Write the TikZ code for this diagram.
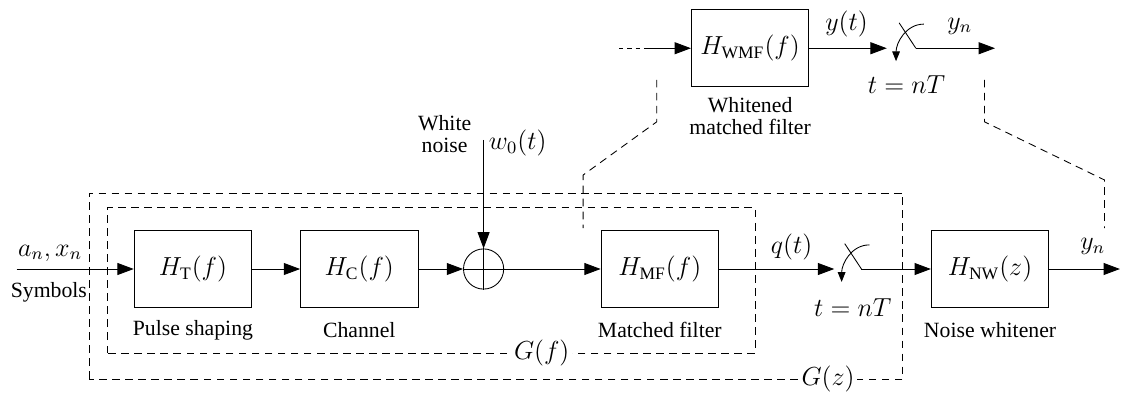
\documentclass[tikz,border=0pt]{standalone}
\usepackage{fontspec}
\setmainfont{Liberation Serif}
\usetikzlibrary{arrows.meta,positioning,calc}

\begin{document}
\begin{tikzpicture}[on grid,thin,node distance=2.69cm,
  bloc/.style={draw,minimum width=1.9cm,minimum height=1.25cm,inner sep=0pt,
               font=\fontsize{11.5}{13}\selectfont},
  somme/.style={draw,circle,minimum size=0.65cm,inner sep=0pt},
  etiq/.style={font=\fontsize{11.5}{13}\selectfont,inner sep=1pt},
  legende/.style={align=center,inner sep=1pt},
  pt/.style={coordinate},
  cadre/.style={dash pattern=on 3.5pt off 2.5pt},
  fl/.style={-{Triangle[length=7.5pt,width=5.5pt]}},
  petitefl/.style={-{Triangle[length=4.5pt,width=3.5pt]}}]

\useasboundingbox (0,0) rectangle (18.16,6.37);

% chaine principale
\node[bloc] (HT) at (3.12,2.02) {$H_{\mathrm{T}}(f)$};
\node[bloc] (HC) [right=of HT] {$H_{\mathrm{C}}(f)$};
\node[somme] (S) [right=2.01cm of HC] {};
\node[bloc] (HMF) [right=2.85cm of S] {$H_{\mathrm{MF}}(f)$};
\node[bloc] (HNW) [right=5.34cm of HMF] {$H_{\mathrm{NW}}(z)$};
\node[bloc] (HWMF) [above right=3.57cm and 1.46cm of HMF] {$H_{\mathrm{WMF}}(f)$};

\node[legende] (lT) [below=0.99cm of HT] {Pulse shaping};
\node[legende] (lC) [below=0.99cm of HC] {Channel};
\node[legende] (lMF) [below=0.99cm of HMF] {Matched filter};
\node[legende] (lNW) [below=0.99cm of HNW] {Noise whitener};
\node[legende] (lWMF) [below=1.1cm of HWMF] {Whitened\\[-2pt]matched filter};

\node[pt] (in) at (0.27,2.02) {};
\node[pt] (out) at (18.11,2.02) {};
\node[pt] (N0) [above=2.09cm of S] {};
\node[pt] (P1) [right=3.26cm of HMF] {};
\node[pt] (P1in) [left=0.44cm of P1] {};
\node[pt] (P2) [right=2.68cm of HWMF] {};
\node[pt] (P2in) [left=0.47cm of P2] {};
\node[pt] (out2) [right=1.28cm of P2] {};
\node[pt] (inA) [left=2.12cm of HWMF] {};
\node[pt] (inB) [left=1.71cm of HWMF] {};

\node[etiq] (an) at (0.81,2.28) {$a_n, x_n$};
\node[legende] (sym) at (0.79,1.65) {Symbols};
\node[legende] (wn) at (7.19,4.20) {White\\[-2pt]noise};
\node[etiq] (w0) at (8.37,4.06) {$w_0(t)$};
\node[etiq] (q) at (12.80,2.38) {$q(t)$};
\node[etiq] (yn1) at (17.67,2.38) {$y_n$};
\node[etiq] (t1) at (13.79,1.39) {$t=nT$};
\node[etiq] (yt) at (13.69,5.98) {$y(t)$};
\node[etiq] (yn2) at (15.52,5.95) {$y_n$};
\node[etiq] (t2) at (14.66,5.0) {$t=nT$};

% liaisons
\draw[fl] (in) -- (HT);
\draw[fl] (HT) -- (HC);
\draw[fl] (HC) -- (S);
\draw[fl] (N0) -- (S.north);
\draw (S.north) -- (S.south) (S.west) -- (S.east);
\draw[fl] (S) -- (HMF);
\draw[fl] (HMF) -- (P1in);
\draw (P1) -- ++(-0.27,0.41);
\draw[petitefl] ($(P1)+(0.13,0.39)$) to[out=180,in=90] ($(P1)+(-0.32,-0.21)$);
\draw[fl] (P1) -- (HNW);
\draw[fl] (HNW) -- (out);

\draw[dash pattern=on 2pt off 1.8pt] (inA) -- (inB);
\draw[fl] (inB) -- (HWMF);
\draw[fl] (HWMF) -- (P2in);
\draw (P2) -- ++(-0.27,0.41);
\draw[petitefl] ($(P2)+(0.13,0.39)$) to[out=180,in=90] ($(P2)+(-0.32,-0.21)$);
\draw[fl] (P2) -- (out2);

% cadres
\draw[cadre] (1.73,0.66) rectangle (12.21,3.01);
\draw[cadre] (1.44,0.24) rectangle (14.60,3.25);
\node[etiq,fill=white] (Gf) at (8.76,0.66) {$G(f)$};
\node[etiq,fill=white] (Gz) at (13.39,0.24) {$G(z)$};

\draw[cadre] (10.62,5.08) -- (10.62,4.40) -- (9.43,3.54) -- (9.43,2.68);
\draw[cadre] (15.92,5.08) -- (15.92,4.40) -- (17.86,3.46) -- (17.86,2.68);
\end{tikzpicture}
\end{document}
